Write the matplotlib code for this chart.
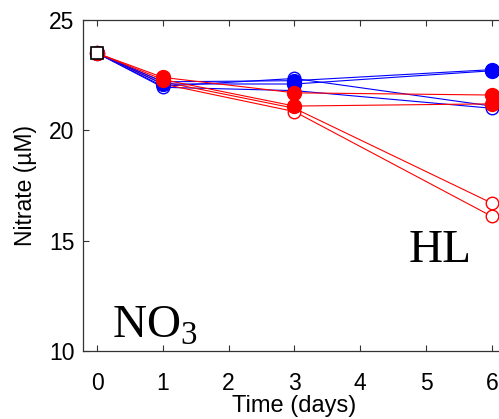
import numpy as np
import matplotlib
matplotlib.use('Agg')
import matplotlib.pyplot as plt

plt.rcParams['font.family'] = ['Liberation Sans', 'DejaVu Sans']
plt.rcParams['mathtext.fontset'] = 'custom'
plt.rcParams['mathtext.rm'] = 'Liberation Serif'

days = [0, 1, 3, 6]
blue_filled_a = [23.5, 22.2, 22.25, 22.75]
blue_filled_b = [23.5, 22.1, 22.1, 22.7]
blue_open_a = [23.5, 22.0, 22.35, 21.1]
blue_open_b = [23.5, 21.95, 21.8, 21.0]
red_filled_a = [23.5, 22.4, 21.7, 21.6]
red_filled_b = [23.5, 22.3, 21.1, 21.2]
red_open_a = [23.5, 22.2, 21.0, 16.7]
red_open_b = [23.5, 22.1, 20.85, 16.1]
start_value = 23.5

fig = plt.figure(figsize=(4.99, 4.19), dpi=100)
ax = fig.add_axes([83/499, 68/419, 422/499, 331/419])

# open symbols first, filled on top
for y in [blue_open_a, blue_open_b]:
    ax.plot(days, y, '-o', color='blue', lw=0.8, ms=9, mfc='white', mec='blue', mew=1)
for y in [red_open_a, red_open_b]:
    ax.plot(days, y, '-o', color='red', lw=0.8, ms=9, mfc='white', mec='red', mew=1)
for y in [blue_filled_a, blue_filled_b]:
    ax.plot(days, y, '-o', color='blue', lw=0.8, ms=10, mfc='blue', mec='blue')
for y in [red_filled_a, red_filled_b]:
    ax.plot(days, y, '-o', color='red', lw=0.8, ms=10, mfc='red', mec='red')
ax.plot([0], [start_value], 's', ms=9, mfc='white', mec='black', mew=1.2, zorder=5)

ax.set_xlim(-0.213, 6.2)
ax.set_ylim(10, 25)
ax.set_xticks(range(0, 7))
ax.set_yticks([10, 15, 20, 25])
ax.tick_params(direction='in', length=4, labelsize=16.5, top=True, right=True, color='#333333')
ax.tick_params(axis='x', pad=15)
ax.tick_params(axis='y', pad=6)
for s in ax.spines.values():
    s.set_color('#333333')
    s.set_linewidth(0.9)
ax.set_xlabel('Time (days)', fontsize=17, labelpad=0)
ax.set_ylabel('Nitrate (\u00b5M)', fontsize=16.5, labelpad=9)

ax.text(4.73, 14.03, 'HL', fontsize=34, family='Liberation Serif')
ax.text(0.23, 10.6, r'NO$_3$', fontsize=34, family='Liberation Serif')

fig.savefig('out.png', dpi=100)
